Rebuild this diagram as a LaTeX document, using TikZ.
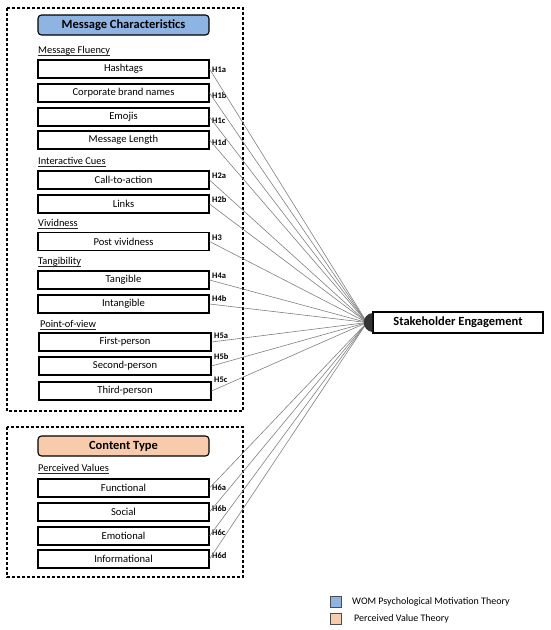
\documentclass[tikz,border=0pt]{standalone}
\usepackage{fontspec}
\setmainfont{Carlito}
\usetikzlibrary{calc}
\begin{document}
\begin{tikzpicture}[x=1pt,y=-1pt,
  itembox/.style={draw, line width=1.1pt, minimum width=171pt, minimum height=18pt, inner sep=0pt, font=\fontsize{10.6}{12}\selectfont},
  header/.style={draw, line width=1.1pt, rounded corners=3.5pt, minimum width=171pt, minimum height=20pt, inner sep=0pt, font=\bfseries\fontsize{12.5}{14}\selectfont},
  seclabel/.style={anchor=base west, inner sep=0pt, font=\fontsize{10.4}{12}\selectfont},
  uline/.style={draw=black!85, line width=0.9pt},
  hlabel/.style={anchor=west, inner sep=0pt, font=\bfseries\fontsize{8.5}{10}\selectfont},
  conn/.style={draw=black!50, line width=0.6pt},
  groupbox/.style={draw, line width=1.1pt, dash pattern=on 3pt off 2pt},
  legtext/.style={anchor=west, inner sep=0pt, font=\fontsize{10}{12}\selectfont}
]
\definecolor{hblue}{HTML}{8DB4E2}
\definecolor{hpeach}{HTML}{F8CBAD}
\useasboundingbox (0,0) rectangle (550,630);

% group boxes
\draw[groupbox] (7,8) rectangle (243,411);
\draw[groupbox] (7,427) rectangle (243,577);

% headers
\node[header, fill=hblue] (mc) at (123.5,25) {Message Characteristics};
\node[header, fill=hpeach] (ct) at (123.5,446) {Content Type};

% section labels
\node[seclabel] (lmf) at (38,53.5) {Message Fluency};
\node[seclabel] (lic) at (38,164.5) {Interactive Cues};
\node[seclabel] (lvv) at (38,226.5) {Vividness};
\node[seclabel] (ltg) at (38,264.5) {Tangibility};
\node[seclabel] (lpv) at (40,327.5) {Point-of-view};
\node[seclabel] (lpval) at (38,471.5) {Perceived Values};
\foreach \n in {lmf,lic,lvv,ltg,lpv,lpval}
  \draw[uline] ([yshift=-2pt]\n.base west) -- ([yshift=-2pt]\n.base east);

% items
\node[itembox] (hash) at (123.5,69) {Hashtags};
\node[itembox] (corp) at (123.5,93) {Corporate brand names};
\node[itembox] (emo) at (123.5,117) {Emojis};
\node[itembox] (len) at (123.5,140) {Message Length};
\node[itembox] (cta) at (123.5,180) {Call-to-action};
\node[itembox] (links) at (123.5,204) {Links};
\node[itembox] (viv) at (123.5,241.5) {Post vividness};
\node[itembox] (tang) at (123.5,280) {Tangible};
\node[itembox] (intang) at (123.5,304) {Intangible};
\node[itembox, minimum width=172pt] (first) at (125,342) {First-person};
\node[itembox, minimum width=172pt] (second) at (125,366) {Second-person};
\node[itembox, minimum width=172pt] (third) at (125,391) {Third-person};
\node[itembox] (func) at (123.5,488) {Functional};
\node[itembox] (soc) at (123.5,512) {Social};
\node[itembox] (emot) at (123.5,536) {Emotional};
\node[itembox] (info) at (123.5,559) {Informational};

% hypothesis labels
\node[hlabel] (h1a) at (212,70) {H1a};
\node[hlabel] (h1b) at (212,96) {H1b};
\node[hlabel] (h1c) at (212,121) {H1c};
\node[hlabel] (h1d) at (212,143) {H1d};
\node[hlabel] (h2a) at (212,176) {H2a};
\node[hlabel] (h2b) at (212,200) {H2b};
\node[hlabel] (h3) at (212,238) {H3};
\node[hlabel] (h4a) at (212,276) {H4a};
\node[hlabel] (h4b) at (212,299) {H4b};
\node[hlabel] (h5a) at (214,336) {H5a};
\node[hlabel] (h5b) at (214,357) {H5b};
\node[hlabel] (h5c) at (214,380) {H5c};
\node[hlabel] (h6a) at (212,488) {H6a};
\node[hlabel] (h6b) at (212,509) {H6b};
\node[hlabel] (h6c) at (212,533) {H6c};
\node[hlabel] (h6d) at (212,556) {H6d};

% outcome
\node[draw, line width=1.1pt, minimum width=170pt, minimum height=21pt, inner sep=0pt, font=\bfseries\fontsize{12.5}{14}\selectfont] (se) at (458,322.5) {Stakeholder Engagement};
\coordinate (conv) at (367,322.5);

% connectors
\foreach \n in {hash,corp,emo,len,cta,links,viv,tang,intang,first,second,third,func,soc,emot,info}
  \draw[conn] (\n.east) -- (conv);

% convergence blob
\fill[black!80] ($(se.north west)+(0,1.5)$) .. controls (361,314.5) and (361,330.5) .. ($(se.south west)+(0,-1.5)$) -- cycle;

% legend
\draw[draw=black!70, fill=hblue, line width=0.6pt] (330,596) rectangle (341,607);
\node[legtext] (leg1) at (352,601.5) {WOM Psychological Motivation Theory};
\draw[draw=black!70, fill=hpeach, line width=0.6pt] (330,613) rectangle (341,624);
\node[legtext] (leg2) at (354,618.5) {Perceived Value Theory};
\end{tikzpicture}
\end{document}
